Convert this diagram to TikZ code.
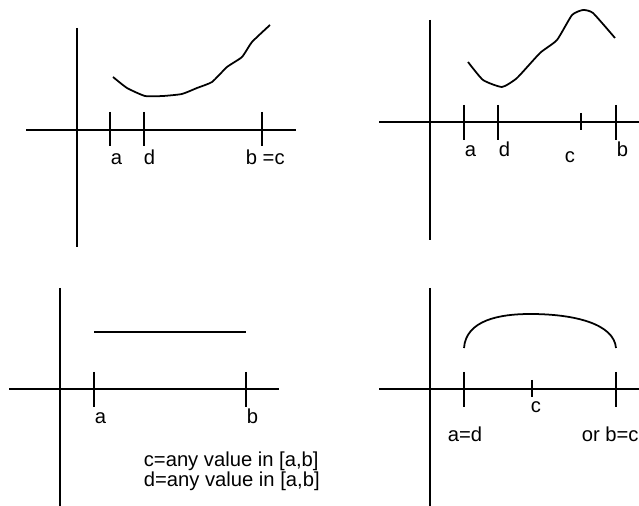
\documentclass[tikz,border=0pt]{standalone}
\usepackage{fontspec}
\setmainfont{Liberation Sans}
\usepackage{tikz}

\begin{document}
\begin{tikzpicture}[x=0.02cm, y=0.02cm, line width=1pt,
    lbl/.style={anchor=base west, inner sep=0pt, font=\fontsize{11.5}{14}\selectfont}]
        \useasboundingbox (0,0) rectangle (639,506);

        % top left: b = c
        \draw (77,478) -- (77,259);
        \draw (26,376) -- (296,376);
        \foreach \x in {110,144,262} \draw (\x,394) -- (\x,360);
        \draw[line join=round] plot[smooth, tension=0.3] coordinates {(113,429) (127,418) (145,410) (163,410)
            (182,412) (197,418) (212,424) (227,439) (242,449) (252,464) (270,481)};
        \node[lbl] (tla) at (110,341) {a};
        \node[lbl] (tld) at (143,341) {d};
        \node[lbl] (tlb) at (245,341) {b =c};

        % top right: c inside
        \draw (430,486) -- (430,266);
        \draw (379,384) -- (639,384);
        \foreach \x in {464,498,616} \draw (\x,401) -- (\x,366);
        \draw (581,393) -- (581,376);
        \draw[line join=round] plot[smooth, tension=0.3] coordinates {(468,444) (483,426) (502,419) (517,428)
            (540,453) (557,466) (572,491) (583,496) (593,493) (615,468)};
        \node[lbl] (tra) at (464,349) {a};
        \node[lbl] (trd) at (498,349) {d};
        \node[lbl] (trc) at (564,343) {c};
        \node[lbl] (trb) at (616,349) {b};

        % bottom left: constant
        \draw (60,218) -- (60,0);
        \draw (9,117) -- (279,117);
        \foreach \x in {94,246} \draw (\x,134) -- (\x,99);
        \draw (94,174) -- (246,174);
        \node[lbl] (bla) at (94,82) {a};
        \node[lbl] (blb) at (246,82) {b};
        \node[lbl] (blc) at (143,39) {c=any value in [a,b]};
        \node[lbl] (bld) at (143,19) {d=any value in [a,b]};

        % bottom right: arc
        \draw (430,218) -- (430,0);
        \draw (379,117) -- (639,117);
        \foreach \x in {464,616} \draw (\x,134) -- (\x,99);
        \draw (532,126) -- (532,109);
        \draw (464,158) .. controls (466,186) and (500,192) .. (530,192)
            .. controls (575,192) and (614,182) .. (616,158);
        \node[lbl] (brc) at (530,93) {c};
        \node[lbl] (bra) at (447,64) {a=d};
        \node[lbl] (brb) at (581,64) {or b=c};
    \end{tikzpicture}
\end{document}
